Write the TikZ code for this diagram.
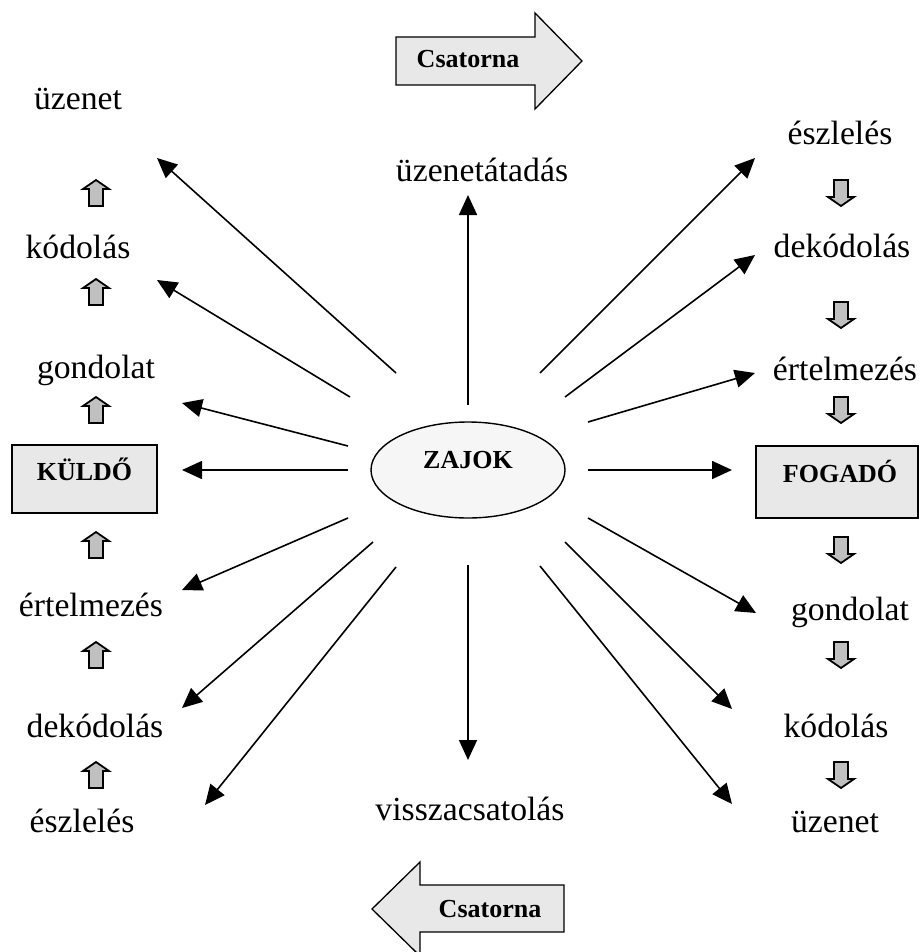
\documentclass[tikz,border=0pt]{standalone}
\usepackage{fontspec}
\setmainfont{Liberation Serif}
\usetikzlibrary{arrows.meta,shapes.geometric}
\definecolor{boxgray}{HTML}{E8E8E8}
\definecolor{ovalgray}{HTML}{F6F6F6}
\definecolor{smallgray}{HTML}{C0C0C0}
\tikzset{
  uparrow/.pic={\draw[line width=1.8pt, fill=smallgray, line join=miter]
    (-7,13) -- (7,13) -- (7,-4) -- (13,-4) -- (0,-13) -- (-13,-4) -- (-7,-4) -- cycle;},
  downarrow/.pic={\draw[line width=1.8pt, fill=smallgray, line join=miter]
    (-7,-13) -- (7,-13) -- (7,4) -- (13,4) -- (0,13) -- (-13,4) -- (-7,4) -- cycle;}
}
\begin{document}
\begin{tikzpicture}[x=1pt,y=-1pt,
  lbl/.style={anchor=base, inner sep=0pt, font=\fontsize{33.7}{40}\selectfont},
  boldlbl/.style={anchor=base, inner sep=0pt, font=\fontsize{26}{30}\selectfont\bfseries},
  ray/.style={line width=1.6pt, -{Triangle[length=20pt,width=18pt]}},
  panel/.style={draw, line width=1.4pt, fill=boxgray, inner sep=0pt},
  channel/.style={draw, line width=1.3pt, fill=boxgray, line join=miter}
]
\useasboundingbox (0,0) rectangle (920,952);

% channel arrows
\draw[channel] (396,37) -- (535,37) -- (535,13) -- (582,61) -- (535,109) -- (535,85) -- (396,85) -- cycle;
\node[boldlbl] (chtop) at (468,68) {Csatorna};
\draw[channel] (564,885) -- (420,885) -- (420,862) -- (372,909) -- (420,956) -- (420,932) -- (564,932) -- cycle;
\node[boldlbl] (chbot) at (490,917) {Csatorna};

% central noise ellipse
\node[ellipse, draw, line width=1.4pt, fill=ovalgray, minimum width=194pt, minimum height=96pt, inner sep=0pt] (zajok) at (468,470) {};
\node[boldlbl] (zajoktxt) at (468,468) {ZAJOK};

% sender and receiver boxes
\node[panel, minimum width=145pt, minimum height=68pt] (kuldo) at (84.5,479) {};
\node[boldlbl] (kuldotxt) at (84.5,480) {KÜLDŐ};
\node[panel, minimum width=162pt, minimum height=72pt] (fogado) at (837,482) {};
\node[boldlbl] (fogadotxt) at (840,482) {FOGADÓ};

% sender side labels
\node[lbl] (l1) at (78,110) {üzenet};
\node[lbl] (l2) at (78,258) {kódolás};
\node[lbl] (l3) at (96,378) {gondolat};
\node[lbl] (l5) at (91,616) {értelmezés};
\node[lbl] (l6) at (95,737) {dekódolás};
\node[lbl] (l7) at (82,832) {észlelés};

% receiver side labels
\node[lbl] (r1) at (840,145) {észlelés};
\node[lbl] (r2) at (842,257) {dekódolás};
\node[lbl] (r3) at (845,380) {értelmezés};
\node[lbl] (r5) at (850,620) {gondolat};
\node[lbl] (r6) at (836,737) {kódolás};
\node[lbl] (r7) at (835,832) {üzenet};

% middle labels
\node[lbl] (m1) at (482,182) {üzenetátadás};
\node[lbl] (m2) at (470,820) {visszacsatolás};

% small step arrows
\foreach \y in {193,292,410,545,655,775} \pic at (96,\y) {uparrow};
\foreach \y in {193,315,410,550,655,775} \pic at (841,\y) {downarrow};

% ray end points
\coordinate (s1) at (396,373);  \coordinate (t1) at (157,158);
\coordinate (s2) at (350,397);  \coordinate (t2) at (157,280);
\coordinate (s3) at (348,446);  \coordinate (t3) at (182,403);
\coordinate (s4) at (348,470);  \coordinate (t4) at (182,470);
\coordinate (s5) at (348,518);  \coordinate (t5) at (182,590);
\coordinate (s6) at (373,542);  \coordinate (t6) at (182,708);
\coordinate (s7) at (396,567);  \coordinate (t7) at (205,805);
\coordinate (s8) at (468,405);  \coordinate (t8) at (468,195);
\coordinate (s9) at (468,565);  \coordinate (t9) at (468,760);
\coordinate (s10) at (540,373); \coordinate (t10) at (755,158);
\coordinate (s11) at (565,397); \coordinate (t11) at (755,255);
\coordinate (s12) at (588,422); \coordinate (t12) at (755,373);
\coordinate (s13) at (588,470); \coordinate (t13) at (732,470);
\coordinate (s14) at (588,518); \coordinate (t14) at (756,613);
\coordinate (s15) at (565,542); \coordinate (t15) at (732,709);
\coordinate (s16) at (540,566); \coordinate (t16) at (732,804);

\foreach \i in {1,...,16} \draw[ray] (s\i) -- (t\i);
\end{tikzpicture}
\end{document}
